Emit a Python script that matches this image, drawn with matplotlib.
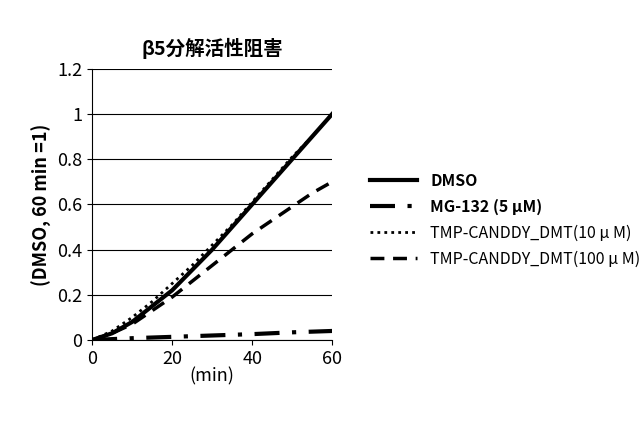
import matplotlib.pyplot as plt

plt.rcParams["font.family"] = ["Noto Sans CJK JP", "DejaVu Sans"]

t = [0, 5, 10, 15, 20, 25, 30, 35, 40, 45, 50, 55, 60]
dmso = [0, 0.03, 0.08, 0.15, 0.22, 0.31, 0.40, 0.50, 0.60, 0.70, 0.80, 0.90, 1.0]
mg132 = [0, 0.004, 0.008, 0.011, 0.014, 0.017, 0.02, 0.023, 0.026, 0.03, 0.034, 0.037, 0.04]
tmp10 = [0, 0.04, 0.10, 0.17, 0.25, 0.33, 0.42, 0.51, 0.61, 0.71, 0.81, 0.90, 1.0]
tmp100 = [0, 0.03, 0.07, 0.13, 0.19, 0.26, 0.33, 0.40, 0.47, 0.53, 0.59, 0.65, 0.70]

fig = plt.figure(figsize=(6.4, 4.41), dpi=100)
ax = fig.add_axes([0.144, 0.229, 0.375, 0.615])

ax.plot(t, dmso, color="black", lw=3, ls="-", label="DMSO")
ax.plot(t, mg132, color="black", lw=3, ls=(0, (6, 3, 1, 3)), label="MG-132 (5 μM)")
ax.plot(t, tmp10, color="black", lw=2, ls=(0, (1, 1.5)), label="TMP-CANDDY_DMT(10 μ M)")
ax.plot(t, tmp100, color="black", lw=2.5, ls=(0, (4, 2.5)), label="TMP-CANDDY_DMT(100 μ M)")

ax.set_xlim(0, 60)
ax.set_ylim(0, 1.2)
ax.set_xticks([0, 20, 40, 60])
ax.set_yticks([0, 0.2, 0.4, 0.6, 0.8, 1, 1.2])
ax.set_yticklabels(["0", "0.2", "0.4", "0.6", "0.8", "1", "1.2"])
ax.tick_params(labelsize=13, direction="out")
ax.yaxis.grid(True, color="black", lw=0.8)
for s in ["top", "right"]:
    ax.spines[s].set_visible(False)
ax.set_xlabel("(min)", fontsize=13, labelpad=0)
ax.set_ylabel("(DMSO, 60 min =1)", fontsize=13, fontweight="bold")
ax.set_title("β5分解活性阻害", fontsize=14, fontweight="bold", pad=10)

leg = fig.legend(loc="center left", bbox_to_anchor=(0.555, 0.5), frameon=False,
                 fontsize=11.5, handlelength=3, labelspacing=0.6)
for txt in leg.get_texts()[:2]:
    txt.set_fontweight("bold")

fig.savefig("out.png")
